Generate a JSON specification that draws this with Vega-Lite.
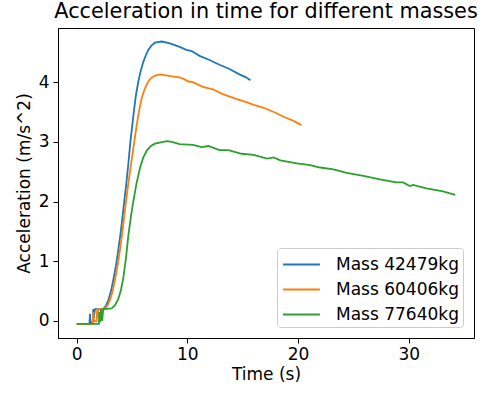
{
  "$schema": "https://vega.github.io/schema/vega-lite/v6.json",
  "width": 416,
  "height": 310,
  "autosize": {"type": "none"},
  "padding": {"left": 58, "top": 28, "right": 17, "bottom": 56},
  "title": {"text": "Acceleration in time for different masses", "fontSize": 20.8, "font": "DejaVu Sans", "fontWeight": "normal", "color": "black", "offset": 5},
  "config": {
    "view": {"stroke": "black", "strokeWidth": 1},
    "font": "DejaVu Sans",
    "axis": {"grid": false, "domainColor": "black", "tickColor": "black", "tickSize": 5, "labelFontSize": 17, "labelColor": "black", "titleFontSize": 17, "titleColor": "black", "titleFontWeight": "normal", "labelFont": "DejaVu Sans", "titleFont": "DejaVu Sans"}
  },
  "data": {"values": [
    {"series":"Mass 42479kg","t":0,"a":-0.05},
    {"series":"Mass 42479kg","t":1.15,"a":-0.05},
    {"series":"Mass 42479kg","t":1.2,"a":0.12},
    {"series":"Mass 42479kg","t":1.25,"a":-0.03},
    {"series":"Mass 42479kg","t":1.45,"a":-0.03},
    {"series":"Mass 42479kg","t":1.5,"a":0.2},
    {"series":"Mass 42479kg","t":1.55,"a":0.05},
    {"series":"Mass 42479kg","t":1.65,"a":0.2},
    {"series":"Mass 42479kg","t":2.4,"a":0.2},
    {"series":"Mass 42479kg","t":2.65,"a":0.26},
    {"series":"Mass 42479kg","t":2.86,"a":0.35},
    {"series":"Mass 42479kg","t":3.1,"a":0.5},
    {"series":"Mass 42479kg","t":3.31,"a":0.69},
    {"series":"Mass 42479kg","t":3.55,"a":0.93},
    {"series":"Mass 42479kg","t":3.76,"a":1.19},
    {"series":"Mass 42479kg","t":4.0,"a":1.52},
    {"series":"Mass 42479kg","t":4.21,"a":1.86},
    {"series":"Mass 42479kg","t":4.5,"a":2.33},
    {"series":"Mass 42479kg","t":4.66,"a":2.62},
    {"series":"Mass 42479kg","t":4.85,"a":3.0},
    {"series":"Mass 42479kg","t":5.11,"a":3.42},
    {"series":"Mass 42479kg","t":5.35,"a":3.78},
    {"series":"Mass 42479kg","t":5.57,"a":4.01},
    {"series":"Mass 42479kg","t":5.8,"a":4.2},
    {"series":"Mass 42479kg","t":6.02,"a":4.34},
    {"series":"Mass 42479kg","t":6.25,"a":4.45},
    {"series":"Mass 42479kg","t":6.47,"a":4.54},
    {"series":"Mass 42479kg","t":6.75,"a":4.61},
    {"series":"Mass 42479kg","t":7.07,"a":4.66},
    {"series":"Mass 42479kg","t":7.68,"a":4.68},
    {"series":"Mass 42479kg","t":8.43,"a":4.65},
    {"series":"Mass 42479kg","t":9.3,"a":4.59},
    {"series":"Mass 42479kg","t":9.9,"a":4.54},
    {"series":"Mass 42479kg","t":10.4,"a":4.52},
    {"series":"Mass 42479kg","t":11.1,"a":4.44},
    {"series":"Mass 42479kg","t":12.0,"a":4.37},
    {"series":"Mass 42479kg","t":12.9,"a":4.29},
    {"series":"Mass 42479kg","t":13.8,"a":4.22},
    {"series":"Mass 42479kg","t":14.7,"a":4.13},
    {"series":"Mass 42479kg","t":15.3,"a":4.08},
    {"series":"Mass 42479kg","t":15.7,"a":4.03},
    {"series":"Mass 60406kg","t":0,"a":-0.05},
    {"series":"Mass 60406kg","t":1.45,"a":-0.05},
    {"series":"Mass 60406kg","t":1.5,"a":0.15},
    {"series":"Mass 60406kg","t":1.55,"a":0.0},
    {"series":"Mass 60406kg","t":1.8,"a":0.0},
    {"series":"Mass 60406kg","t":1.85,"a":0.2},
    {"series":"Mass 60406kg","t":1.9,"a":0.05},
    {"series":"Mass 60406kg","t":1.95,"a":0.2},
    {"series":"Mass 60406kg","t":2.5,"a":0.2},
    {"series":"Mass 60406kg","t":2.78,"a":0.26},
    {"series":"Mass 60406kg","t":3.0,"a":0.35},
    {"series":"Mass 60406kg","t":3.25,"a":0.5},
    {"series":"Mass 60406kg","t":3.46,"a":0.69},
    {"series":"Mass 60406kg","t":3.7,"a":0.93},
    {"series":"Mass 60406kg","t":3.91,"a":1.19},
    {"series":"Mass 60406kg","t":4.15,"a":1.52},
    {"series":"Mass 60406kg","t":4.36,"a":1.86},
    {"series":"Mass 60406kg","t":4.66,"a":2.3},
    {"series":"Mass 60406kg","t":4.97,"a":2.7},
    {"series":"Mass 60406kg","t":5.2,"a":3.0},
    {"series":"Mass 60406kg","t":5.42,"a":3.28},
    {"series":"Mass 60406kg","t":5.65,"a":3.53},
    {"series":"Mass 60406kg","t":5.87,"a":3.73},
    {"series":"Mass 60406kg","t":6.15,"a":3.89},
    {"series":"Mass 60406kg","t":6.47,"a":4.01},
    {"series":"Mass 60406kg","t":6.75,"a":4.07},
    {"series":"Mass 60406kg","t":7.07,"a":4.11},
    {"series":"Mass 60406kg","t":7.53,"a":4.13},
    {"series":"Mass 60406kg","t":8.5,"a":4.1},
    {"series":"Mass 60406kg","t":9.3,"a":4.08},
    {"series":"Mass 60406kg","t":9.7,"a":4.05},
    {"series":"Mass 60406kg","t":10.1,"a":4.01},
    {"series":"Mass 60406kg","t":10.5,"a":4.0},
    {"series":"Mass 60406kg","t":11.4,"a":3.92},
    {"series":"Mass 60406kg","t":12.3,"a":3.88},
    {"series":"Mass 60406kg","t":13.2,"a":3.8},
    {"series":"Mass 60406kg","t":14.4,"a":3.72},
    {"series":"Mass 60406kg","t":15.4,"a":3.66},
    {"series":"Mass 60406kg","t":16.0,"a":3.62},
    {"series":"Mass 60406kg","t":16.9,"a":3.57},
    {"series":"Mass 60406kg","t":17.8,"a":3.5},
    {"series":"Mass 60406kg","t":18.7,"a":3.42},
    {"series":"Mass 60406kg","t":19.6,"a":3.35},
    {"series":"Mass 60406kg","t":20.3,"a":3.28},
    {"series":"Mass 77640kg","t":0,"a":-0.05},
    {"series":"Mass 77640kg","t":2.0,"a":-0.05},
    {"series":"Mass 77640kg","t":2.05,"a":0.15},
    {"series":"Mass 77640kg","t":2.1,"a":-0.02},
    {"series":"Mass 77640kg","t":2.2,"a":0.2},
    {"series":"Mass 77640kg","t":2.3,"a":0.0},
    {"series":"Mass 77640kg","t":2.4,"a":0.2},
    {"series":"Mass 77640kg","t":3.16,"a":0.21},
    {"series":"Mass 77640kg","t":3.45,"a":0.26},
    {"series":"Mass 77640kg","t":3.76,"a":0.37},
    {"series":"Mass 77640kg","t":4.0,"a":0.52},
    {"series":"Mass 77640kg","t":4.21,"a":0.72},
    {"series":"Mass 77640kg","t":4.45,"a":1.05},
    {"series":"Mass 77640kg","t":4.66,"a":1.42},
    {"series":"Mass 77640kg","t":4.9,"a":1.75},
    {"series":"Mass 77640kg","t":5.11,"a":2.0},
    {"series":"Mass 77640kg","t":5.4,"a":2.3},
    {"series":"Mass 77640kg","t":5.72,"a":2.56},
    {"series":"Mass 77640kg","t":6.0,"a":2.73},
    {"series":"Mass 77640kg","t":6.32,"a":2.85},
    {"series":"Mass 77640kg","t":6.7,"a":2.93},
    {"series":"Mass 77640kg","t":7.07,"a":2.97},
    {"series":"Mass 77640kg","t":7.6,"a":2.99},
    {"series":"Mass 77640kg","t":8.13,"a":3.01},
    {"series":"Mass 77640kg","t":8.6,"a":3.0},
    {"series":"Mass 77640kg","t":9.3,"a":2.96},
    {"series":"Mass 77640kg","t":10.5,"a":2.95},
    {"series":"Mass 77640kg","t":11.3,"a":2.91},
    {"series":"Mass 77640kg","t":11.9,"a":2.93},
    {"series":"Mass 77640kg","t":12.9,"a":2.86},
    {"series":"Mass 77640kg","t":13.7,"a":2.86},
    {"series":"Mass 77640kg","t":14.9,"a":2.8},
    {"series":"Mass 77640kg","t":16.0,"a":2.78},
    {"series":"Mass 77640kg","t":17.2,"a":2.72},
    {"series":"Mass 77640kg","t":17.8,"a":2.74},
    {"series":"Mass 77640kg","t":18.4,"a":2.69},
    {"series":"Mass 77640kg","t":19.9,"a":2.64},
    {"series":"Mass 77640kg","t":21.1,"a":2.61},
    {"series":"Mass 77640kg","t":22.0,"a":2.57},
    {"series":"Mass 77640kg","t":23.2,"a":2.54},
    {"series":"Mass 77640kg","t":24.4,"a":2.48},
    {"series":"Mass 77640kg","t":25.9,"a":2.43},
    {"series":"Mass 77640kg","t":27.4,"a":2.37},
    {"series":"Mass 77640kg","t":28.9,"a":2.32},
    {"series":"Mass 77640kg","t":29.5,"a":2.32},
    {"series":"Mass 77640kg","t":30.1,"a":2.26},
    {"series":"Mass 77640kg","t":30.4,"a":2.28},
    {"series":"Mass 77640kg","t":31.6,"a":2.22},
    {"series":"Mass 77640kg","t":33.1,"a":2.17},
    {"series":"Mass 77640kg","t":34.2,"a":2.11}
  ]},
  "mark": {"type": "line", "strokeWidth": 1.8, "clip": true},
  "encoding": {
    "x": {"field": "t", "type": "quantitative", "title": "Time (s)",
          "scale": {"domain": [-1.69, 35.9], "nice": false, "zero": false},
          "axis": {"values": [0, 10, 20, 30], "labelPadding": 3, "titlePadding": 4, "labelFlush": false}},
    "y": {"field": "a", "type": "quantitative", "title": "Acceleration (m/s^2)",
          "scale": {"domain": [-0.285, 4.906], "nice": false, "zero": false},
          "axis": {"values": [0, 1, 2, 3, 4], "labelPadding": 4, "titlePadding": 5, "labelFlush": false}},
    "color": {"field": "series", "type": "nominal",
              "scale": {"domain": ["Mass 42479kg", "Mass 60406kg", "Mass 77640kg"], "range": ["#1f77b4", "#ff7f0e", "#2ca02c"]},
              "legend": {"title": null, "orient": "none", "legendX": 219, "legendY": 220,
                         "symbolType": "M-1.6,0H1.6", "symbolSize": 529, "symbolStrokeWidth": 2, "symbolOffset": 8,
                         "labelFontSize": 17, "labelColor": "black", "labelFont": "DejaVu Sans", "labelOffset": 22, "labelLimit": 300,
                         "rowPadding": 4, "padding": 4, "strokeColor": "#cccccc", "fillColor": "rgba(255,255,255,0.8)", "cornerRadius": 3}}
  }
}
